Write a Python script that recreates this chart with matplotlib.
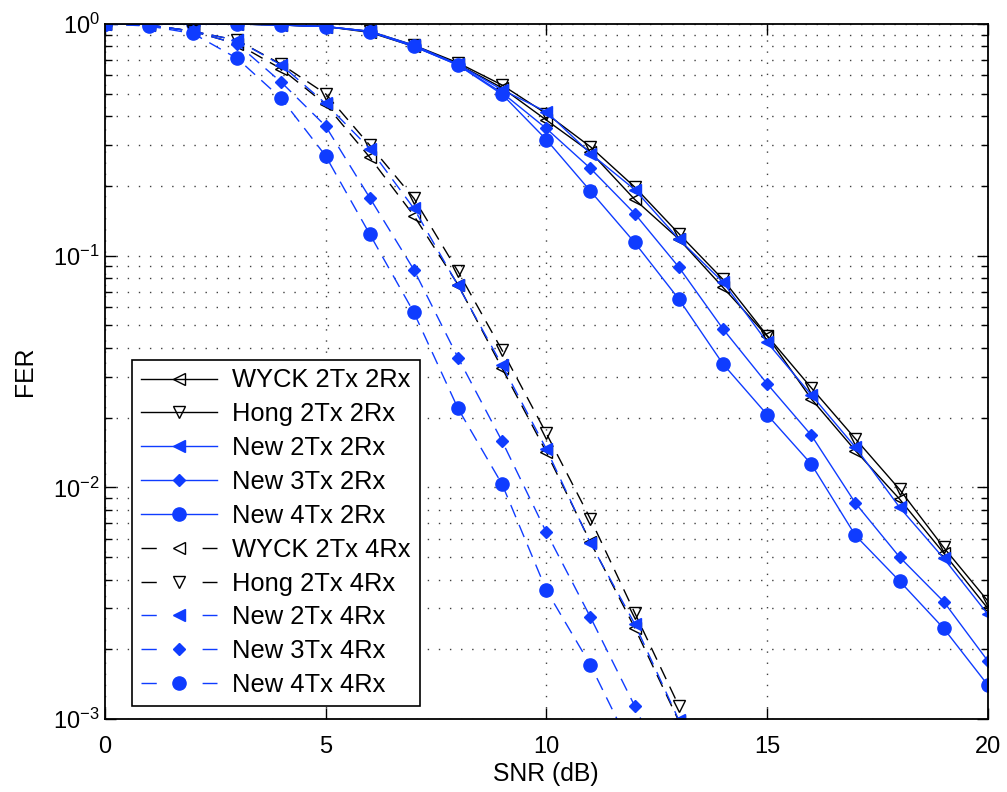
import numpy as np
import matplotlib
matplotlib.use('Agg')
import matplotlib.pyplot as plt
from matplotlib.ticker import LogLocator, NullFormatter

plt.rcParams['font.family'] = ['Liberation Sans', 'DejaVu Sans']
plt.rcParams['mathtext.fontset'] = 'custom'
plt.rcParams['mathtext.rm'] = 'Liberation Sans'
plt.rcParams['mathtext.it'] = 'Liberation Sans'
plt.rcParams['font.size'] = 17

# SNR axes
snr_2rx = list(range(0, 21))
snr_4rx = list(range(0, 14))
snr_44 = list(range(0, 13))

# 2 receive antennas
wyck_22 = [1, 1, 1, 1, 0.99, 0.975, 0.92, 0.80, 0.67, 0.53, 0.385, 0.28, 0.175,
           0.118, 0.073, 0.045, 0.0241, 0.0144, 0.0089, 0.0052, 0.0030]
hong_22 = [1, 1, 1, 1, 0.99, 0.975, 0.93, 0.81, 0.68, 0.545, 0.41, 0.295, 0.198,
           0.1245, 0.079, 0.0452, 0.0269, 0.0162, 0.0098, 0.0055, 0.00323]
new2_22 = [1, 1, 1, 1, 0.99, 0.975, 0.93, 0.81, 0.67, 0.52, 0.418, 0.276, 0.193,
           0.118, 0.0769, 0.0423, 0.0251, 0.0149, 0.0082, 0.00494, 0.00283]
new3_22 = [1, 1, 1, 1, 0.99, 0.975, 0.93, 0.80, 0.665, 0.505, 0.354, 0.238, 0.152,
           0.0893, 0.0483, 0.028, 0.0168, 0.00855, 0.005, 0.00321, 0.00178]
new4_22 = [1, 1, 1, 1, 0.99, 0.975, 0.925, 0.80, 0.665, 0.497, 0.317, 0.19, 0.114,
           0.065, 0.0341, 0.0206, 0.0126, 0.0062, 0.00394, 0.00246, 0.0014]

# 4 receive antennas
wyck_24 = [1, 0.99, 0.93, 0.82, 0.64, 0.45, 0.266, 0.149, 0.075, 0.0326, 0.0142,
           0.0058, 0.00248, 0.00098]
hong_24 = [1, 0.99, 0.93, 0.85, 0.67, 0.50, 0.30, 0.177, 0.0855, 0.039, 0.0171,
           0.0073, 0.00288, 0.00114]
new2_24 = [1, 0.99, 0.93, 0.85, 0.665, 0.454, 0.29, 0.16, 0.0744, 0.0336, 0.01465,
           0.00574, 0.00258, 0.00099]
new3_24 = [1, 0.99, 0.93, 0.82, 0.56, 0.363, 0.178, 0.087, 0.0363, 0.0158, 0.0064,
           0.00275, 0.00114, 0.00045]
new4_24 = [1, 0.98, 0.91, 0.71, 0.477, 0.27, 0.124, 0.0569, 0.0219, 0.0103, 0.0036,
           0.00171, 0.0007]

blue = '#0f3cff'
dash = (0, (9.5, 6))

fig = plt.figure(figsize=(10.07, 7.92), dpi=100)
ax = fig.add_axes([0.104, 0.0922, 0.877, 0.8775])

ax.semilogy(snr_2rx, wyck_22, '-', color='k', lw=1, marker='<', ms=8,
            mfc='none', mec='k', label='WYCK 2Tx 2Rx')
ax.semilogy(snr_2rx, hong_22, '-', color='k', lw=1, marker='v', ms=8,
            mfc='none', mec='k', label='Hong 2Tx 2Rx')
ax.semilogy(snr_2rx, new2_22, '-', color=blue, lw=1, marker='<', ms=9,
            mfc=blue, mec=blue, label='New 2Tx 2Rx')
ax.semilogy(snr_2rx, new3_22, '-', color=blue, lw=1, marker='D', ms=6.5,
            mfc=blue, mec=blue, label='New 3Tx 2Rx')
ax.semilogy(snr_2rx, new4_22, '-', color=blue, lw=1, marker='o', ms=9.5,
            mfc=blue, mec=blue, label='New 4Tx 2Rx')
ax.semilogy(snr_4rx, wyck_24, ls=dash, color='k', lw=1, marker='<', ms=8,
            mfc='none', mec='k', label='WYCK 2Tx 4Rx')
ax.semilogy(snr_4rx, hong_24, ls=dash, color='k', lw=1, marker='v', ms=8,
            mfc='none', mec='k', label='Hong 2Tx 4Rx')
ax.semilogy(snr_4rx, new2_24, ls=dash, color=blue, lw=1, marker='<', ms=9,
            mfc=blue, mec=blue, label='New 2Tx 4Rx')
ax.semilogy(snr_4rx, new3_24, ls=dash, color=blue, lw=1, marker='D', ms=6.5,
            mfc=blue, mec=blue, label='New 3Tx 4Rx')
ax.semilogy(snr_44, new4_24, ls=dash, color=blue, lw=1, marker='o', ms=9.5,
            mfc=blue, mec=blue, label='New 4Tx 4Rx')

ax.set_xlim(0, 20)
ax.set_ylim(1e-3, 1)
ax.set_xticks([0, 5, 10, 15, 20])
ax.yaxis.set_major_locator(LogLocator(base=10, numticks=10))
ax.yaxis.set_minor_locator(LogLocator(base=10, subs=np.arange(2, 10), numticks=20))
ax.yaxis.set_minor_formatter(NullFormatter())

ax.grid(True, which='major', color='0.25', ls=(0, (1, 7)), lw=1)
ax.grid(True, which='minor', axis='y', color='0.25', ls=(0, (1, 7)), lw=1)

ax.tick_params(which='both', direction='in', top=True, right=True, labelsize=17)
ax.tick_params(which='major', length=8, width=1)
ax.tick_params(which='minor', length=5, width=1)
ax.tick_params(axis='x', pad=12)
for sp in ax.spines.values():
    sp.set_linewidth(1.3)

ax.set_xlabel('SNR (dB)', fontsize=17.8, labelpad=3)
ax.set_ylabel('FER', fontsize=17.8, labelpad=12)

leg = ax.legend(loc='lower left', bbox_to_anchor=(0.0306, 0.0187), borderaxespad=0,
                fontsize=18.4, handlelength=3.0, handletextpad=0.58,
                labelspacing=0.385, borderpad=0.35, fancybox=False, framealpha=1,
                edgecolor='k')
leg.get_frame().set_linewidth(1.2)
# matlab style legend dashes: short dash either side of the marker
for ln in leg.get_lines()[5:]:
    ln.set_linestyle((0, (11, 33)))

fig.savefig('out.png', dpi=100)
